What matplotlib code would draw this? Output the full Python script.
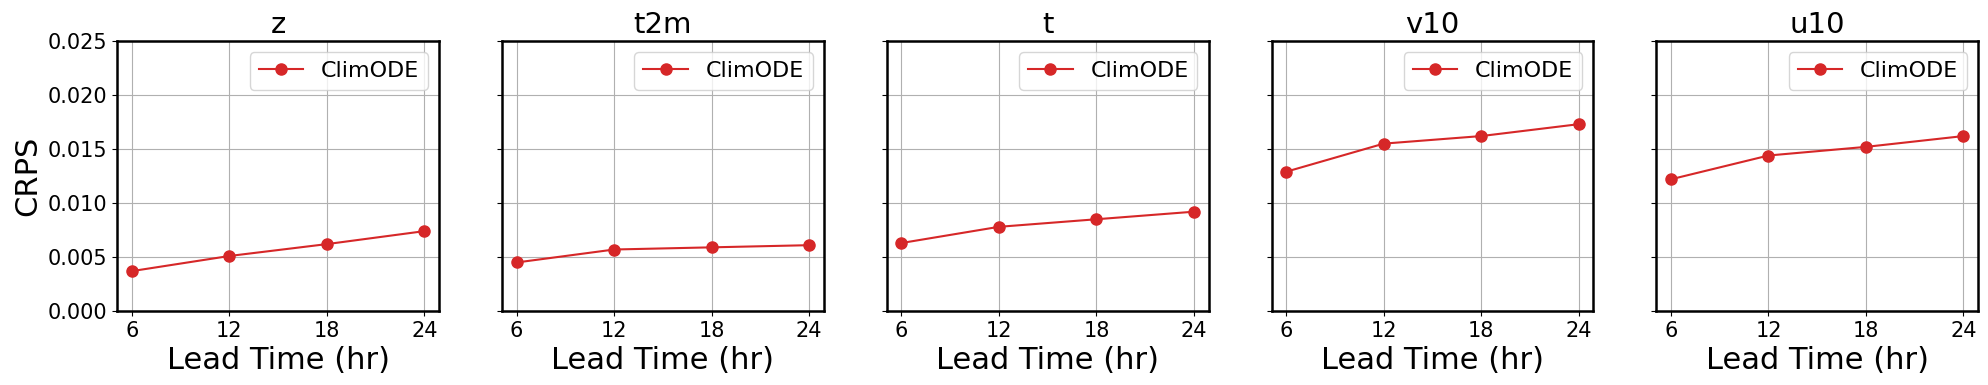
import matplotlib
matplotlib.use('Agg')
import matplotlib.pyplot as plt

# Lead times and CRPS values per variable
lead_times = [6, 12, 18, 24]
variables = ['z', 't2m', 't', 'v10', 'u10']
crps_z = [0.0037, 0.0051, 0.0062, 0.0074]
crps_t2m = [0.0045, 0.0057, 0.0059, 0.0061]
crps_t = [0.0063, 0.0078, 0.0085, 0.0092]
crps_v10 = [0.0129, 0.0155, 0.0162, 0.0173]
crps_u10 = [0.0122, 0.0144, 0.0152, 0.0162]
all_crps = [crps_z, crps_t2m, crps_t, crps_v10, crps_u10]

fig, axes = plt.subplots(1, 5, figsize=(19.88, 3.85), dpi=100, sharey=True)
plt.subplots_adjust(left=0.059, right=0.995, top=0.8935, bottom=0.192, wspace=0.196)

for i, ax in enumerate(axes):
    ax.plot(lead_times, all_crps[i], marker='o', color='tab:red',
            markersize=8, linewidth=1.5, label='ClimODE')
    ax.set_title(variables[i], fontsize=21)
    ax.set_xlabel('Lead Time (hr)', fontsize=22)
    ax.set_xticks(lead_times)
    ax.set_ylim(0, 0.025)
    ax.set_yticks([0, 0.005, 0.01, 0.015, 0.02, 0.025])
    ax.tick_params(labelsize=15)
    ax.grid(True)
    for s in ax.spines.values():
        s.set_linewidth(1.8)
    ax.legend(loc='upper right', fontsize=16)

axes[0].set_ylabel('CRPS', fontsize=22)
axes[0].set_yticklabels(['0.000', '0.005', '0.010', '0.015', '0.020', '0.025'])

fig.savefig('out.png', dpi=100)
